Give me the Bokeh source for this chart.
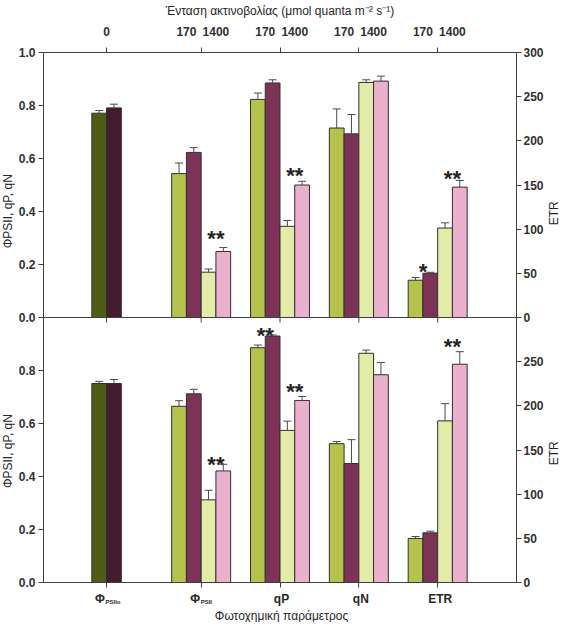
import math
from bokeh.plotting import figure
from bokeh.layouts import row, column
from bokeh.models import (Range1d, LinearAxis, FixedTicker, CustomJSTickFormatter,
                          ColumnDataSource, Whisker, TeeHead, Span)
from bokeh.core.properties import value
from bokeh.embed import file_html
from bokeh.resources import INLINE

# ---------------- data ----------------
parameters = ["ΦPSIIo", "ΦPSII", "qP", "qN", "ETR"]
light_labels = ["0", "170", "1400", "170", "1400", "170", "1400", "170", "1400"]
phi_subscripts = ["PSIIo", "PSII"]
y_title = "ΦPSII, qP, qN"
y2_title = "ETR"
x_title = "Φωτοχημική παράμετρος"
top_title = "Ένταση ακτινοβολίας (μmol quanta m⁻² s⁻¹)"

# Upper panel -- dark-adapted ΦPSIIo, two groups
up_dark_A = [0.771]
up_dark_A_err = [0.010]
up_dark_B = [0.791]
up_dark_B_err = [0.014]
# Upper panel -- ΦPSII, qP, qN (left axis) and ETR (right axis)
up_170_A = [0.543, 0.823, 0.715, 42.2]
up_170_A_err = [0.040, 0.024, 0.072, 3.1]
up_170_B = [0.623, 0.885, 0.693, 50.1]
up_170_B_err = [0.018, 0.012, 0.073, 1.1]
up_1400_A = [0.171, 0.344, 0.887, 101.3]
up_1400_A_err = [0.012, 0.022, 0.010, 5.9]
up_1400_B = [0.249, 0.500, 0.892, 147.6]
up_1400_B_err = [0.015, 0.014, 0.019, 7.5]

# Lower panel
lo_dark_A = [0.751]
lo_dark_A_err = [0.008]
lo_dark_B = [0.751]
lo_dark_B_err = [0.015]
lo_170_A = [0.665, 0.886, 0.524, 49.9]
lo_170_A_err = [0.021, 0.010, 0.008, 2.2]
lo_170_B = [0.712, 0.930, 0.449, 56.2]
lo_170_B_err = [0.017, 0.004, 0.090, 1.9]
lo_1400_A = [0.312, 0.574, 0.865, 183.0]
lo_1400_A_err = [0.036, 0.035, 0.012, 19.5]
lo_1400_B = [0.421, 0.687, 0.784, 247.1]
lo_1400_B_err = [0.025, 0.015, 0.046, 14.2]

# significance marks: (parameter index, pair (0=170, 1=1400), text, y)
up_marks = [(1, 1, "**", 0.331), (2, 1, "**", 0.570), (4, 0, "*", 62.6), (4, 1, "**", 168.0)]
lo_marks = [(1, 1, "**", 0.480), (2, 0, "**", 0.967), (2, 1, "**", 0.753), (4, 1, "**", 277.8)]

# ---------------- layout / style ----------------
group_x = [0.8, 2, 3, 4, 5]
bar_w = 0.187
FW, FH = 476, 535
LW, RW = 15, 15
BL, BR, BT, BB = 28, 27, 47, 9
MW, MH = BL + FW + BR, BT + FH + BB
BOT_H = 31
TOTAL_W = LW + MW + RW

C_DG, C_DR = "#4f5c15", "#441c2e"
C_YG, C_MR = "#b5c24c", "#7d3358"
C_PY, C_PK = "#e3eba9", "#ecb0cf"
OUTLINE = "#303030"
ERRC = "#4a4a4a"
AXC = "#404040"
TXT = "#262626"
FONT = "Liberation Sans"


def bare(**kw):
    f = figure(output_backend="svg", toolbar_location=None, x_axis_location=None,
               y_axis_location=None, **kw)
    f.outline_line_color = None
    f.xgrid.visible = False
    f.ygrid.visible = False
    return f


p = bare(width=MW, height=MH, x_range=Range1d(0, 6), y_range=Range1d(0, 2),
         min_border_left=BL, min_border_right=BR, min_border_top=BT, min_border_bottom=BB)
p.extra_y_ranges = {"up": Range1d(-1, 1), "up_etr": Range1d(-300, 300), "lo_etr": Range1d(0, 600)}


def style_axis(ax):
    ax.axis_line_color = AXC
    ax.major_tick_line_color = AXC
    ax.minor_tick_line_color = AXC
    ax.major_tick_in = 0
    ax.major_tick_out = 5
    ax.minor_tick_in = 0
    ax.minor_tick_out = 0
    ax.major_label_text_font = FONT
    ax.major_label_text_font_size = "12px"
    ax.major_label_text_font_style = "bold"
    ax.major_label_text_color = "#303030"
    ax.major_label_standoff = 3


left = LinearAxis(ticker=FixedTicker(ticks=[0, 0.2, 0.4, 0.6, 0.8, 1.0, 1.2, 1.4, 1.6, 1.8, 2.0]),
                  formatter=CustomJSTickFormatter(code="const v = tick > 0.999 ? tick - 1 : tick; return v.toFixed(1);"))
style_axis(left)
p.add_layout(left, "left")

right = LinearAxis(y_range_name="lo_etr",
                   ticker=FixedTicker(ticks=[0, 50, 100, 150, 200, 250, 300, 350, 400, 450, 500, 550, 600]),
                   formatter=CustomJSTickFormatter(code="const v = tick > 299 ? tick - 300 : tick; return v.toFixed(0);"))
style_axis(right)
right.major_label_standoff = 2
p.add_layout(right, "right")

top_tick_pos = [group_x[0]]
for g in group_x[1:]:
    top_tick_pos += [g - bar_w, g + bar_w]
above = LinearAxis(ticker=FixedTicker(ticks=top_tick_pos, minor_ticks=group_x),
                   formatter=CustomJSTickFormatter(args=dict(labels=light_labels), code="return labels[index];"))
style_axis(above)
above.major_tick_out = 0
above.minor_tick_out = 5
above.major_label_standoff = 12
above.axis_label = top_title
above.axis_label_text_font = FONT
above.axis_label_text_font_size = "12px"
above.axis_label_text_font_style = "normal"
above.axis_label_text_color = TXT
above.axis_label_standoff = 6
p.add_layout(above, "above")

below = LinearAxis(ticker=FixedTicker(ticks=[], minor_ticks=group_x))
style_axis(below)
below.minor_tick_out = 5
p.add_layout(below, "below")

# middle separating line with its ticks (baseline of the upper panel)
p.add_layout(Span(location=0, dimension="width", y_range_name="up", line_color=AXC, line_width=1))
p.ray(x=group_x, y=[0] * len(group_x), y_range_name="up", length=5, length_units="screen",
      angle=-math.pi / 2, line_color=AXC, line_width=1)


def bars(xs, tops, errs, color, rng):
    p.vbar(x=xs, top=tops, bottom=0, width=bar_w, fill_color=color, line_color=OUTLINE,
           line_width=1, y_range_name=rng)
    src = ColumnDataSource(dict(x=xs, lower=tops, upper=[t + e for t, e in zip(tops, errs)]))
    p.add_layout(Whisker(source=src, base="x", lower="lower", upper="upper", dimension="height",
                         y_range_name=rng, line_color=ERRC, line_width=1, lower_head=None,
                         upper_head=TeeHead(size=8, line_color=ERRC, line_width=1), level="glyph"))


def panel(dA, dAe, dB, dBe, s170A, s170Ae, s170B, s170Be, s1400A, s1400Ae, s1400B, s1400Be, rng, rng_etr):
    bars([group_x[0] - 0.5 * bar_w], dA, dAe, C_DG, rng)
    bars([group_x[0] + 0.5 * bar_w], dB, dBe, C_DR, rng)
    series = [(s170A, s170Ae, C_YG, -1.5), (s170B, s170Be, C_MR, -0.5),
              (s1400A, s1400Ae, C_PY, 0.5), (s1400B, s1400Be, C_PK, 1.5)]
    for vals, errs, col, off in series:
        xs = [g + off * bar_w for g in group_x[1:]]
        bars(xs[:3], vals[:3], errs[:3], col, rng)
        bars(xs[3:], vals[3:], errs[3:], col, rng_etr)


panel(up_dark_A, up_dark_A_err, up_dark_B, up_dark_B_err, up_170_A, up_170_A_err, up_170_B, up_170_B_err,
      up_1400_A, up_1400_A_err, up_1400_B, up_1400_B_err, "up", "up_etr")
panel(lo_dark_A, lo_dark_A_err, lo_dark_B, lo_dark_B_err, lo_170_A, lo_170_A_err, lo_170_B, lo_170_B_err,
      lo_1400_A, lo_1400_A_err, lo_1400_B, lo_1400_B_err, "default", "lo_etr")


def marks(lst, rng, rng_etr):
    for gi, pair, txt, yv in lst:
        xv = group_x[gi] + (bar_w if pair == 1 else -bar_w)
        p.text(x=[xv], y=[yv], text=[txt], y_range_name=(rng_etr if gi == 4 else rng),
               text_font=value(FONT), text_font_style="bold", text_font_size="22px",
               text_align="center", text_baseline="alphabetic", y_offset=9, text_color="#222222")


marks(up_marks, "up", "up_etr")
marks(lo_marks, "default", "lo_etr")

# ---------------- side strips: vertical titles, one per panel ----------------
txt_kw = dict(text_font=value(FONT), text_color=TXT, text_baseline="middle")
panel_mid_from_top = [BT + FH / 4, BT + 3 * FH / 4]


def side_strip(width, text, text_len_px):
    s = bare(width=width, height=MH, x_range=Range1d(0, width), y_range=Range1d(0, MH), min_border=0)
    ys = [MH - (m + text_len_px / 2) for m in panel_mid_from_top]
    s.text(x=[width / 2] * 2, y=ys, text=[text] * 2, angle=math.pi / 2, text_font_size="12px",
           text_align="left", **txt_kw)
    return s


left_strip = side_strip(LW, y_title, 75)
right_strip = side_strip(RW, y2_title, 24)


# ---------------- bottom strip: category labels and x title ----------------
def frame_px(xd):
    return LW + BL + xd * FW / 6


bot = bare(width=TOTAL_W, height=BOT_H, x_range=Range1d(0, TOTAL_W), y_range=Range1d(BOT_H, 0), min_border=0)
bot.text(x=[frame_px(g) for g in group_x[2:]], y=[7] * 3, text=parameters[2:], text_font_size="12px",
         text_font_style="bold", text_align="center", **txt_kw)
bot.text(x=[frame_px(g) - 7 for g in group_x[:2]], y=[7] * 2, text=["Φ", "Φ"], text_font_size="12px",
         text_font_style="bold", text_align="center", **txt_kw)
bot.text(x=[frame_px(g) - 1.5 for g in group_x[:2]], y=[10] * 2, text=phi_subscripts, text_font_size="6px",
         text_font_style="bold", text_align="left", **txt_kw)
bot.text(x=[frame_px(3)], y=[24], text=[x_title], text_font_size="12px", text_align="center", **txt_kw)

layout = column(row(left_strip, p, right_strip), bot)
open("out.html", "w").write(file_html(layout, INLINE))
